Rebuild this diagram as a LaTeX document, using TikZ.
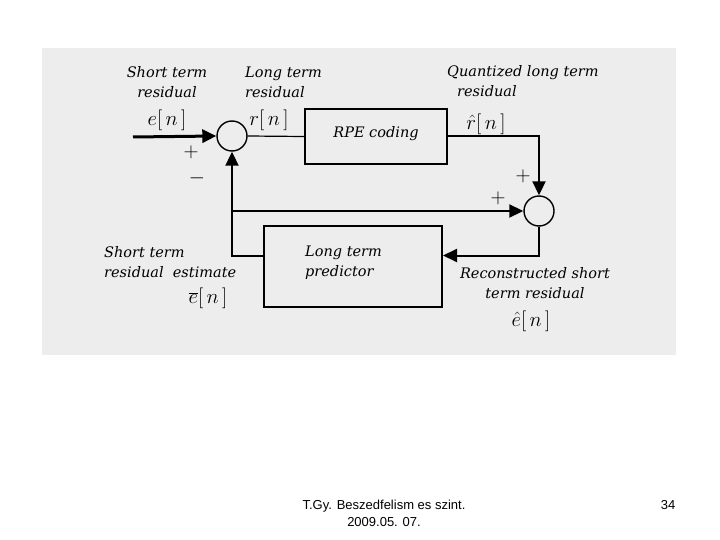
\documentclass[tikz,border=0pt]{standalone}
\usepackage{fontspec}
\usepackage{tikz}
\usetikzlibrary{arrows.meta}
\newfontfamily\lblfont{DejaVu Serif}
\newfontfamily\footfont{Liberation Sans}
\tikzset{
  sumnode/.style={draw,circle,line width=1.4pt,minimum size=30pt,inner sep=0pt},
  blockbox/.style={draw,rectangle,line width=2pt,inner sep=0pt,font=\lblfont\itshape\fontsize{14.5}{20}\selectfont},
  lbl/.style={font=\lblfont\itshape\fontsize{14.5}{20}\selectfont,inner sep=0pt},
  sig/.style={font=\fontsize{20}{22}\selectfont,inner sep=0pt},
  flow/.style={line width=2pt,-{Triangle[length=14pt,width=13pt]}},
}
\begin{document}
\begin{tikzpicture}[x=1pt,y=1pt]
        \useasboundingbox (0,0) rectangle (720,-540);
        \fill[black!7] (42,-48) rectangle (676,-355);
        % blocks and summing points
        \node[sumnode] (sumA) at (232,-136) {};
        \node[sumnode] (sumB) at (539,-211) {};
        \node[blockbox,minimum width=142pt,minimum height=55pt,text depth=10pt] (rpe) at (376,-136.5) {RPE coding};
        \node[blockbox,minimum width=178pt,minimum height=81pt] (ltp) at (353,-266.5) {};
        \node[lbl,align=left,anchor=west] (ltptext) at (305,-263) {Long term\\predictor};
        \coordinate (in) at (133,-137);
        % connectors
        \draw[flow,line width=3pt] (in) -- (sumA.west);
        \draw[line width=1.2pt] (sumA.east) -- (rpe.west);
        \draw[flow] (rpe.east) -| (sumB.north);
        \draw[flow] (sumB.south) |- ([yshift=11pt]ltp.east);
        \draw[flow] ([yshift=11pt]ltp.west) -| (sumA.south);
        \draw[flow] (sumA.south |- sumB.west) -- (sumB.west);
        % signs
        \node[sig] (pA) at (191,-152) {$\mathbf{+}$};
        \node[sig] (mA) at (197,-178) {$-$};
        \node[sig] (pB) at (523,-176) {$\mathbf{+}$};
        \node[sig] (pC) at (498,-198) {$\mathbf{+}$};
        % labels
        \node[lbl,align=center] (lshort) at (167,-82) {Short term\\residual};
        \node[sig] (le) at (167,-120) {$e[\,n\,]$};
        \node[lbl,align=left,anchor=west] (llong) at (245,-82) {Long term\\residual};
        \node[sig] (lr) at (269,-120) {$r[\,n\,]$};
        \node[lbl,align=left,anchor=west] (lquant) at (447,-81) {Quantized long term\\\hspace*{10pt}residual};
        \node[sig] (lrh) at (486,-124) {$\hat{r}[\,n\,]$};
        \node[lbl,align=left,anchor=west] (lest) at (104,-262) {Short term\\residual\ \ estimate};
        \node[sig] (lebar) at (208,-298) {$\overline{e}[\,n\,]$};
        \node[lbl,align=center] (lrec) at (535,-283) {Reconstructed short\\term residual};
        \node[sig] (lehat) at (531,-321) {$\hat{e}[\,n\,]$};
        % footer
        \node[font=\footfont\fontsize{13}{17}\selectfont,align=center] (foot) at (384,-513) {T.Gy. Beszedfelism es szint.\\2009.05. 07.};
        \node[font=\footfont\fontsize{13}{17}\selectfont] (page) at (668,-505) {34};
    \end{tikzpicture}
\end{document}
